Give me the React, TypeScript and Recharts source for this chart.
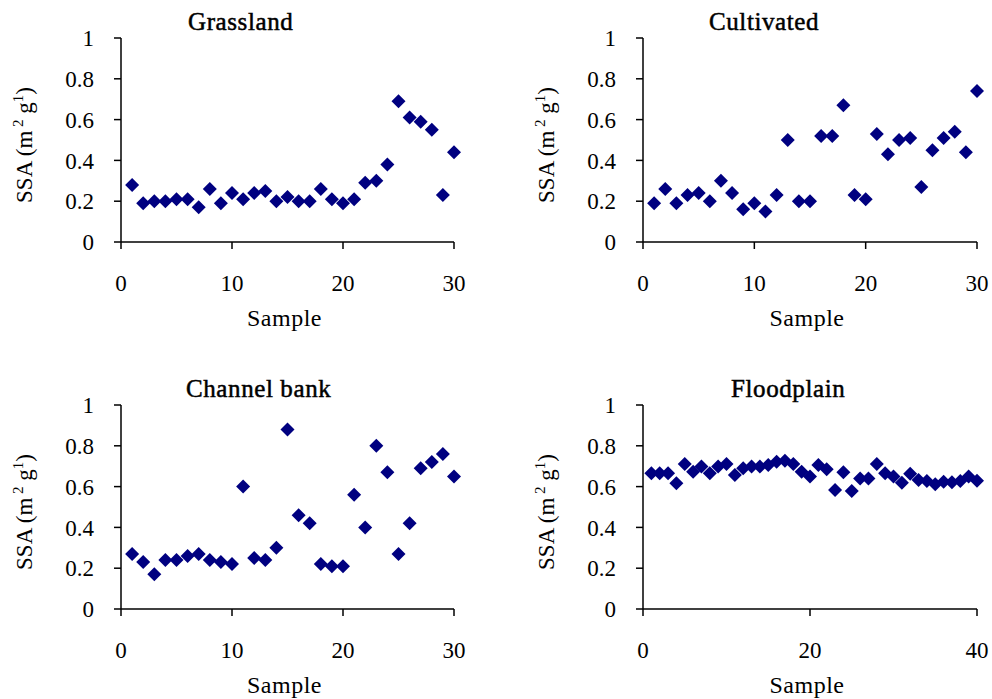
import { ScatterChart, Scatter, XAxis, YAxis } from 'recharts'

const FONT = "'Liberation Serif', 'Times New Roman', serif"
const MARKER = '#000080'

// SSA values (m2 g-1) read per sample
const grasslandSSA = [
  0.28, 0.19, 0.2, 0.2, 0.21, 0.21, 0.17, 0.26, 0.19, 0.24,
  0.21, 0.24, 0.25, 0.2, 0.22, 0.2, 0.2, 0.26, 0.21, 0.19,
  0.21, 0.29, 0.3, 0.38, 0.69, 0.61, 0.59, 0.55, 0.23, 0.44,
]
const cultivatedSSA = [
  0.19, 0.26, 0.19, 0.23, 0.24, 0.2, 0.3, 0.24, 0.16, 0.19,
  0.15, 0.23, 0.5, 0.2, 0.2, 0.52, 0.52, 0.67, 0.23, 0.21,
  0.53, 0.43, 0.5, 0.51, 0.27, 0.45, 0.51, 0.54, 0.44, 0.74,
]
const channelBankSSA = [
  0.27, 0.23, 0.17, 0.24, 0.24, 0.26, 0.27, 0.24, 0.23, 0.22,
  0.6, 0.25, 0.24, 0.3, 0.88, 0.46, 0.42, 0.22, 0.21, 0.21,
  0.56, 0.4, 0.8, 0.67, 0.27, 0.42, 0.69, 0.72, 0.76, 0.65,
]
const floodplainSSA = [
  0.665, 0.665, 0.665, 0.616, 0.711, 0.673, 0.698, 0.665, 0.698, 0.711,
  0.657, 0.69, 0.698, 0.698, 0.706, 0.722, 0.727, 0.711, 0.673, 0.649,
  0.706, 0.685, 0.583, 0.67, 0.578, 0.64, 0.64, 0.711, 0.665, 0.649,
  0.619, 0.663, 0.632, 0.627, 0.611, 0.624, 0.621, 0.627, 0.649, 0.629,
]

const yTicks = [0, 0.2, 0.4, 0.6, 0.8, 1]
const xTicks30 = [0, 10, 20, 30]
const xTicks40 = [0, 20, 40]

const toPoints = (values: number[]) => values.map((ssa, i) => ({ sample: i + 1, ssa }))

const textStyle = { fontFamily: FONT }

function Diamond(props: any) {
  const { cx, cy } = props
  if (cx == null || cy == null) return null
  const r = 7
  return <path d={`M${cx},${cy - r}L${cx + r},${cy}L${cx},${cy + r}L${cx - r},${cy}Z`} fill={MARKER} />
}

function XTick(props: any) {
  const { x, y, payload } = props
  return (
    <text x={x} y={y} dy="0.71em" textAnchor="middle" fontSize={23} fill="#000" style={textStyle}>
      {payload.value}
    </text>
  )
}

function YTick(props: any) {
  const { x, y, payload } = props
  return (
    <text x={x} y={y} dy="0.355em" textAnchor="end" fontSize={23} fill="#000" style={textStyle}>
      {payload.value}
    </text>
  )
}

function SsaLabel(props: any) {
  const { viewBox } = props
  const x = viewBox.x + viewBox.width - 97
  const y = viewBox.y + viewBox.height / 2 + 5
  return (
    <text
      x={x}
      y={y}
      dy={8}
      transform={`rotate(-90, ${x}, ${y})`}
      textAnchor="middle"
      fontSize={23}
      fill="#000"
      style={textStyle}
    >
      SSA (m<tspan dy={-9} fontSize={15}> 2</tspan>
      <tspan dy={9}> g</tspan>
      <tspan dy={-9} fontSize={15}>1</tspan>
      <tspan dy={9}>)</tspan>
    </text>
  )
}

function SampleLabel(props: any) {
  const { viewBox } = props
  return (
    <text
      x={viewBox.x + viewBox.width / 2 - 3}
      y={viewBox.y + 84}
      textAnchor="middle"
      fontSize={24}
      letterSpacing={0.5}
      fill="#000"
      style={textStyle}
    >
      Sample
    </text>
  )
}

interface PanelProps {
  values: number[]
  xMax: number
  xTicks: number[]
  left: number
  top: number
  width: number
  height: number
  margin: { top: number; right: number; bottom: number; left: number }
}

function Panel({ values, xMax, xTicks, left, top, width, height, margin }: PanelProps) {
  const axisLine = { stroke: '#000', strokeWidth: 1.5 }
  return (
    <div style={{ position: 'absolute', left, top }}>
      <ScatterChart width={width} height={height} margin={margin}>
        <XAxis
          type="number"
          dataKey="sample"
          domain={[0, xMax]}
          ticks={xTicks}
          height={80}
          tickSize={7}
          tickMargin={26}
          axisLine={axisLine}
          tickLine={axisLine}
          tick={<XTick />}
          label={<SampleLabel />}
        />
        <YAxis
          type="number"
          dataKey="ssa"
          domain={[0, 1]}
          ticks={yTicks}
          width={121}
          tickSize={7}
          tickMargin={20}
          axisLine={axisLine}
          tickLine={axisLine}
          tick={<YTick />}
          label={<SsaLabel />}
        />
        <Scatter data={toPoints(values)} shape={<Diamond />} isAnimationActive={false} />
      </ScatterChart>
    </div>
  )
}

const titles = [
  { text: 'Grassland', x: 188, y: 30 },
  { text: 'Cultivated', x: 709, y: 30 },
  { text: 'Channel bank', x: 186, y: 397 },
  { text: 'Floodplain', x: 731, y: 397 },
]

export default function App() {
  const topMargin = { top: 38, bottom: 27 }
  const bottomMargin = { top: 38, bottom: 10 }
  return (
    <div style={{ position: 'fixed', left: 0, top: 0, width: 992, height: 699, background: '#fff' }}>
      <Panel values={grasslandSSA} xMax={30} xTicks={xTicks30} left={0} top={0} width={496} height={349}
        margin={{ ...topMargin, left: 0, right: 42 }} />
      <Panel values={cultivatedSSA} xMax={30} xTicks={xTicks30} left={522} top={0} width={470} height={349}
        margin={{ ...topMargin, left: 0, right: 15 }} />
      <Panel values={channelBankSSA} xMax={30} xTicks={xTicks30} left={0} top={367} width={496} height={332}
        margin={{ ...bottomMargin, left: 0, right: 42 }} />
      <Panel values={floodplainSSA} xMax={40} xTicks={xTicks40} left={522} top={367} width={470} height={332}
        margin={{ ...bottomMargin, left: 0, right: 15 }} />
      <svg width={992} height={699} style={{ position: 'absolute', left: 0, top: 0, pointerEvents: 'none' }}>
        {titles.map((t) => (
          <text key={t.text} x={t.x} y={t.y} fontSize={25} letterSpacing={0.6}
            stroke="#000" strokeWidth={0.5} fill="#000" style={textStyle}>
            {t.text}
          </text>
        ))}
      </svg>
    </div>
  )
}
